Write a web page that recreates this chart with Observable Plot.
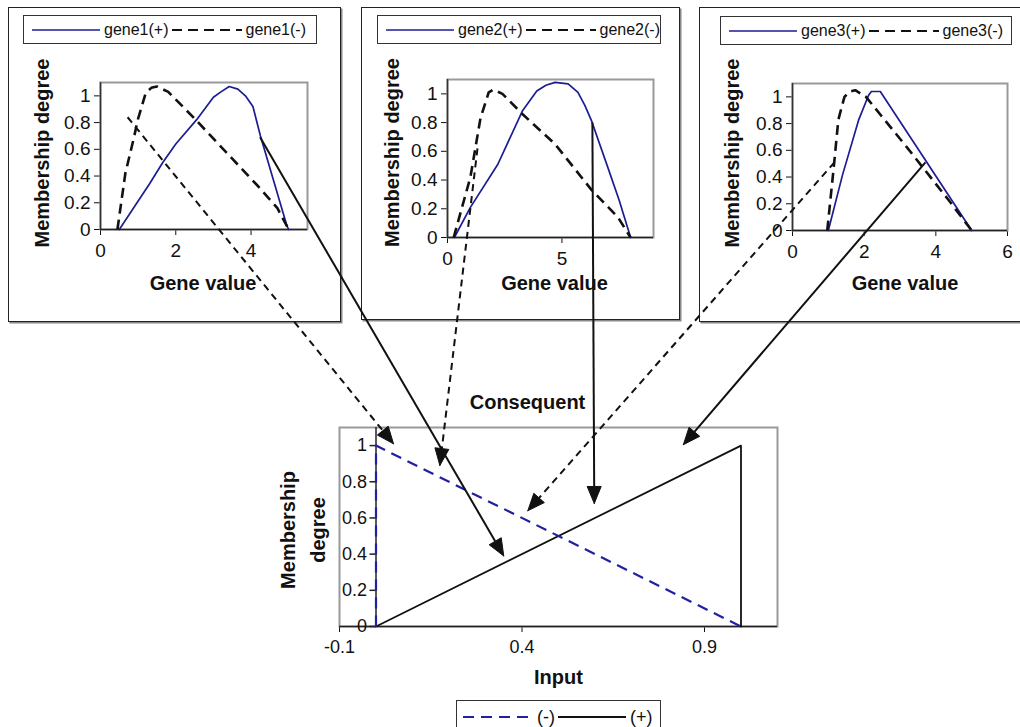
<!DOCTYPE html>
<html>
<head>
<meta charset="utf-8">
<script src="https://cdn.jsdelivr.net/npm/d3@7"></script>
<script src="https://cdn.jsdelivr.net/npm/@observablehq/plot@0.6"></script>
<style>
  body { margin: 0; background: #fff; }
  #root { position: relative; width: 1020px; height: 727px; overflow: hidden; background: #fff;
          font-family: 'Liberation Sans', Arial, Helvetica, sans-serif; color: #111; }
  .box { position: absolute; box-sizing: border-box; border: 1.5px solid #222; box-shadow: 1.5px 1.5px 0 #888; background: #fff; }
  .legend { position: absolute; box-sizing: border-box; border: 1.5px solid #333; background: #fff;
            display: flex; align-items: center; white-space: nowrap; }
</style>
</head>
<body>
<div id="root"></div>
<script>
// ---------------- data ----------------
const yTicks = [0, 0.2, 0.4, 0.6, 0.8, 1];
const yDomain = [0, 1.1];

const gene1XDomain = [0, 5.5];
const gene1XTicks = [0, 2, 4];
const gene1Plus = [[0.5,0],[0.9,0.17],[1.3,0.34],[1.65,0.5],[2.0,0.64],[2.55,0.82],[3.0,0.99],[3.2,1.03],[3.42,1.07],[3.65,1.05],[3.85,1.0],[4.05,0.92],[4.25,0.7],[4.95,0.03],[5.0,0]];
const gene1Minus = [[0.45,0],[0.66,0.42],[0.89,0.69],[0.99,0.82],[1.2,1.02],[1.35,1.06],[1.5,1.07],[1.8,1.03],[2.5,0.83],[3.5,0.53],[4.2,0.32],[4.7,0.16],[5.0,0]];

const gene2XDomain = [0, 9];
const gene2XTicks = [0, 5];
const gene2Plus = [[0.3,0],[1.0,0.21],[2.2,0.51],[3.27,0.88],[3.9,1.02],[4.3,1.06],[4.7,1.08],[5.27,1.07],[5.7,1.01],[6.0,0.92],[6.3,0.81],[7.0,0.49],[7.5,0.26],[8.0,0]];
const gene2Minus = [[0.27,0],[1.0,0.42],[1.44,0.83],[1.8,1.01],[2.0,1.03],[2.4,1.0],[3.27,0.86],[4.7,0.65],[6.3,0.33],[7.45,0.14],[8.0,0]];

const gene3XDomain = [0, 6];
const gene3XTicks = [0, 2, 4, 6];
const gene3Plus = [[1.0,0],[1.4,0.42],[1.85,0.83],[2.12,1.01],[2.2,1.04],[2.45,1.04],[5.0,0]];
const gene3Minus = [[0.97,0],[1.15,0.47],[1.28,0.83],[1.45,1.0],[1.6,1.04],[1.75,1.05],[2.05,1.0],[3.2,0.62],[4.35,0.23],[5.0,0]];

const consXDomain = [-0.1, 1.1];
const consXTicks = [-0.1, 0.4, 0.9];
const consMinus = [[0,0],[0,1],[1,0]];
const consPlus = [[0,0],[1,1],[1,0]];

// arrows: source panel, style, start (source data coords), tip (consequent data coords)
const arrowSource = ["gene1", "gene1", "gene2", "gene2", "gene3", "gene3"];
const arrowDashed = [true, false, true, false, true, false];
const arrowStartX = [0.72, 4.24, 1.31, 6.33, 1.17, 3.71];
const arrowStartY = [0.84, 0.69, 0.62, 0.80, 0.51, 0.51];
const arrowTipX = [0.048, 0.35, 0.175, 0.598, 0.416, 0.842];
const arrowTipY = [1.01, 0.39, 0.89, 0.68, 0.64, 1.005];

// ---------------- helpers ----------------
const FONT = "'Liberation Sans', Arial, Helvetica, sans-serif";
const BLUE = "#1c1c94";
const fmt = d => String(+(+d).toFixed(1));
const root = document.getElementById("root");

function place(el, left, top, z) {
  el.style.position = "absolute";
  el.style.left = left + "px";
  el.style.top = top + "px";
  if (z != null) el.style.zIndex = z;
  root.appendChild(el);
  return el;
}

function axisFont(plot, size) {
  d3.select(plot).selectAll('g[aria-label^="x-axis"], g[aria-label^="y-axis"]')
    .style("font-size", size + "px");
  d3.select(plot).selectAll('g[aria-label^="x-axis"] text, g[aria-label^="y-axis"] text')
    .style("font-size", size + "px");
}

function sample(width, color, dash, sw) {
  const s = d3.create("svg").attr("width", width).attr("height", 12).style("display", "block").style("flex", "none");
  s.append("line").attr("x1", 0).attr("x2", width).attr("y1", 6).attr("y2", 6)
    .attr("stroke", color).attr("stroke-width", sw).attr("stroke-dasharray", dash || null);
  return s.node();
}

function legend(box, items, fontSize, padLeft) {
  const div = document.createElement("div");
  div.className = "legend";
  div.style.width = box.w + "px";
  div.style.height = box.h + "px";
  div.style.paddingLeft = padLeft + "px";
  div.style.fontSize = fontSize + "px";
  items.forEach(it => {
    div.appendChild(sample(it.w, it.color, it.dash, it.sw));
    const sp = document.createElement("span");
    sp.textContent = it.label;
    sp.style.margin = "0 3px 0 4px";
    div.appendChild(sp);
  });
  place(div, box.left, box.top, 3);
}

// ---------------- gene panels ----------------
const panels = [
  {name: "gene1", left: 8, top: 7, w: 333, h: 315, ml: 92, mt: 75, mr: 34, mb: 93,
   xDomain: gene1XDomain, xTicks: gene1XTicks, pos: gene1Plus, neg: gene1Minus,
   xtDx: -1, xtDy: 54, ytDx: -58, ytDy: -3,
   legendBox: {left: 23, top: 15, w: 294, h: 29}, labels: ["gene1(+)", "gene1(-)"]},
  {name: "gene2", left: 361, top: 7, w: 319, h: 313, ml: 86, mt: 72, mr: 27, mb: 83,
   xDomain: gene2XDomain, xTicks: gene2XTicks, pos: gene2Plus, neg: gene2Minus,
   xtDx: 4, xtDy: 46, ytDx: -55, ytDy: -6,
   legendBox: {left: 377, top: 15, w: 284, h: 29}, labels: ["gene2(+)", "gene2(-)"]},
  {name: "gene3", left: 699, top: 7, w: 323, h: 315, ml: 93, mt: 76, mr: 15, mb: 92,
   xDomain: gene3XDomain, xTicks: gene3XTicks, pos: gene3Plus, neg: gene3Minus,
   xtDx: 5, xtDy: 53, ytDx: -60, ytDy: -4,
   legendBox: {left: 720, top: 16, w: 292, h: 29}, labels: ["gene3(+)", "gene3(-)"]}
];

const byName = {};
for (const p of panels) {
  const box = document.createElement("div");
  box.className = "box";
  box.style.width = p.w + "px";
  box.style.height = p.h + "px";
  place(box, p.left, p.top, 1);

  const plot = Plot.plot({
    width: p.w, height: p.h,
    marginLeft: p.ml, marginRight: p.mr, marginTop: p.mt, marginBottom: p.mb,
    style: {fontFamily: FONT, fontSize: "19px", color: "#111", background: "transparent", overflow: "visible"},
    x: {domain: p.xDomain, ticks: p.xTicks, tickSize: 6, tickPadding: 8, tickFormat: fmt, label: null},
    y: {domain: yDomain, ticks: yTicks, tickSize: 6, tickPadding: 4, tickFormat: fmt, label: null},
    marks: [
      Plot.frame({stroke: "#9a9a9a", strokeWidth: 2}),
      Plot.ruleX([p.xDomain[0]], {stroke: "#333", strokeWidth: 1.5}),
      Plot.ruleY([0], {stroke: "#222", strokeWidth: 1.5}),
      Plot.line(p.pos, {x: d => d[0], y: d => d[1], stroke: BLUE, strokeWidth: 1.7}),
      Plot.line(p.neg, {x: d => d[0], y: d => d[1], stroke: "#111", strokeWidth: 2.6, strokeDasharray: "10,6", strokeLinecap: "butt"}),
      Plot.text(["Gene value"], {text: d => d, frameAnchor: "bottom", textAnchor: "middle", lineAnchor: "middle", dx: p.xtDx, dy: p.xtDy, fontWeight: "bold", fontSize: 20}),
      Plot.text(["Membership degree"], {text: d => d, frameAnchor: "left", textAnchor: "middle", lineAnchor: "middle", rotate: -90, dx: p.ytDx, dy: p.ytDy, fontWeight: "bold", fontSize: 20})
    ]
  });
  axisFont(plot, 19);
  place(plot, p.left, p.top, 2);
  p.plot = plot;
  byName[p.name] = p;

  legend(p.legendBox, [
    {w: 68, color: BLUE, dash: null, sw: 1.7, label: p.labels[0]},
    {w: 70, color: "#111", dash: "10,6", sw: 2, label: p.labels[1]}
  ], 16, 8);
}

// ---------------- consequent panel ----------------
const cons = {left: 270, top: 380, w: 520, h: 320};
const consPlot = Plot.plot({
  width: cons.w, height: cons.h,
  marginLeft: 69, marginRight: 13, marginTop: 47, marginBottom: 74,
  style: {fontFamily: FONT, fontSize: "18px", color: "#111", background: "transparent", overflow: "visible"},
  x: {domain: consXDomain, ticks: consXTicks, tickSize: 6, tickPadding: 8, tickFormat: fmt, label: null},
  y: {domain: yDomain, axis: null},
  marks: [
    Plot.frame({stroke: "#9a9a9a", strokeWidth: 2}),
    Plot.ruleY([0], {stroke: "#222", strokeWidth: 1.5}),
    Plot.ruleX([0], {stroke: "#222", strokeWidth: 1.5}),
    Plot.ruleY(yTicks, {y: d => d, x1: 0, x2: 0, insetLeft: -6, stroke: "#222", strokeWidth: 1.5}),
    Plot.text(yTicks, {x: 0, y: d => d, text: fmt, textAnchor: "end", dx: -9, fontSize: 18}),
    Plot.line(consPlus, {x: d => d[0], y: d => d[1], stroke: "#111", strokeWidth: 1.8}),
    Plot.line(consMinus, {x: d => d[0], y: d => d[1], stroke: "#2020a0", strokeWidth: 2.2, strokeDasharray: "11,7", strokeLinecap: "butt"}),
    Plot.text(["Consequent"], {text: d => d, frameAnchor: "top", textAnchor: "middle", lineAnchor: "middle", dx: -31, dy: -25, fontWeight: "bold", fontSize: 20}),
    Plot.text(["Input"], {text: d => d, frameAnchor: "bottom", textAnchor: "middle", lineAnchor: "middle", dy: 51, fontWeight: "bold", fontSize: 20}),
    Plot.text(["Membership\ndegree"], {text: d => d, frameAnchor: "left", textAnchor: "middle", lineAnchor: "middle", rotate: -90, lineHeight: 1.5, dx: -39, dy: 3, fontWeight: "bold", fontSize: 20})
  ]
});
axisFont(consPlot, 18);
place(consPlot, cons.left, cons.top, 2);

legend({left: 456, top: 700, w: 205, h: 34}, [
  {w: 70, color: "#2020a0", dash: "11,7", sw: 2.2, label: "(-)"},
  {w: 68, color: "#111", dash: null, sw: 1.8, label: "(+)"}
], 18, 6);

// ---------------- arrows overlay ----------------
const HEAD_LEN = 17, HEAD_HALF = 7;
const arrows = arrowSource.map((src, i) => {
  const p = byName[src];
  const sx = p.left + p.plot.scale("x").apply(arrowStartX[i]);
  const sy = p.top + p.plot.scale("y").apply(arrowStartY[i]);
  const tx = cons.left + consPlot.scale("x").apply(arrowTipX[i]);
  const ty = cons.top + consPlot.scale("y").apply(arrowTipY[i]);
  const dx = tx - sx, dy = ty - sy, L = Math.hypot(dx, dy);
  const ux = dx / L, uy = dy / L;
  const bx = tx - ux * HEAD_LEN, by = ty - uy * HEAD_LEN;
  return {id: i, dashed: arrowDashed[i], sx, sy, tx, ty, bx, by, nx: -uy, ny: ux};
});
const heads = arrows.flatMap(a => [
  {id: a.id, px: a.tx, py: a.ty},
  {id: a.id, px: a.bx + a.nx * HEAD_HALF, py: a.by + a.ny * HEAD_HALF},
  {id: a.id, px: a.bx - a.nx * HEAD_HALF, py: a.by - a.ny * HEAD_HALF},
  {id: a.id, px: a.tx, py: a.ty}
]);

const overlay = Plot.plot({
  width: 1020, height: 727, margin: 0,
  style: {background: "transparent", overflow: "visible"},
  x: {type: "identity", axis: null},
  y: {type: "identity", axis: null},
  marks: [
    Plot.link(arrows.filter(a => a.dashed), {x1: "sx", y1: "sy", x2: "bx", y2: "by", stroke: "#111", strokeWidth: 2, strokeDasharray: "7,5", strokeLinecap: "butt"}),
    Plot.link(arrows.filter(a => !a.dashed), {x1: "sx", y1: "sy", x2: "bx", y2: "by", stroke: "#111", strokeWidth: 2}),
    Plot.line(heads, {x: "px", y: "py", z: "id", fill: "#111", stroke: "#111", strokeWidth: 1})
  ]
});
overlay.style.pointerEvents = "none";
place(overlay, 0, 0, 10);
</script>
</body>
</html>
